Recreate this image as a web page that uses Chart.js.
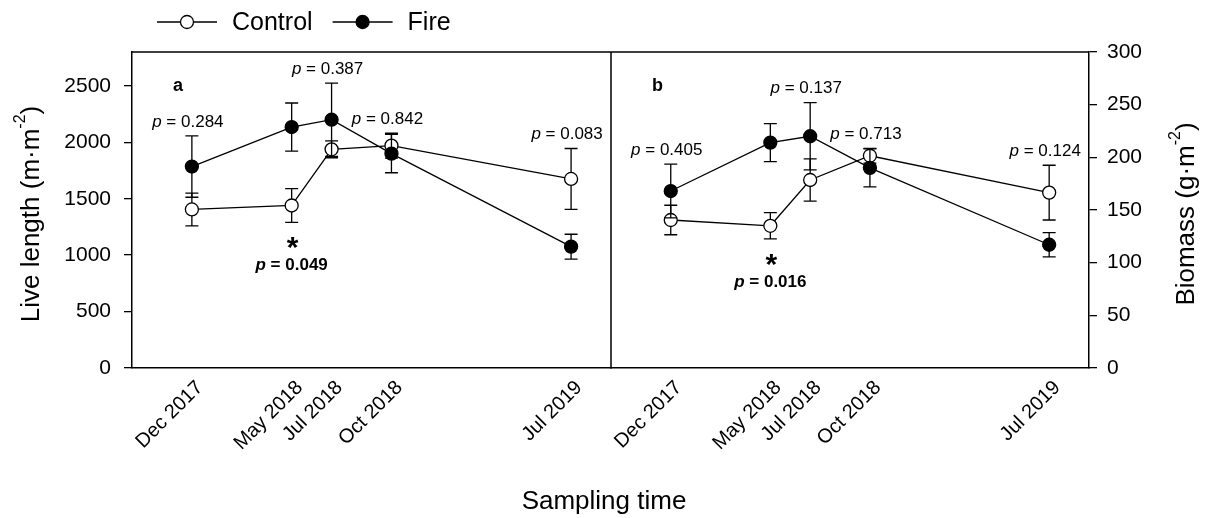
<!DOCTYPE html>
<html>
<head>
<meta charset="utf-8">
<script src="https://cdn.jsdelivr.net/npm/chart.js@4.4.1/dist/chart.umd.min.js"></script>
<style>
body{margin:0;background:#fff}
#wrap{position:relative;width:1213px;height:518px;background:#fff;font-family:'Liberation Sans',Arial,sans-serif}
#ca{position:absolute;left:0;top:0}
#cb{position:absolute;left:560px;top:0}
#xtitle{position:absolute;left:0;top:485px;width:1208px;text-align:center;font-size:26px;color:#000}
</style>
</head>
<body>
<div id="wrap">
  <canvas id="ca" width="612" height="518"></canvas>
  <canvas id="cb" width="653" height="518"></canvas>
  <div id="xtitle">Sampling time</div>
</div>
<script>
// sampling dates, as months after Dec 2017
const months = [0, 5, 7, 10, 19];
const dateLabels = ['Dec 2017', 'May 2018', 'Jul 2018', 'Oct 2018', 'Jul 2019'];

// panel a: live root length (m m-2)
const lengthControl = [1405, 1440, 1938, 1970, 1675];
const lengthControlSE = [145, 150, 75, 110, 270];
const lengthFire = [1785, 2135, 2200, 1900, 1075];
const lengthFireSE = [272, 213, 325, 170, 110];
const lengthP = ['0.284', '0.049', '0.387', '0.842', '0.083'];
const lengthTicks = [0, 500, 1000, 1500, 2000, 2500];

// panel b: biomass (g m-2)
const biomassControl = [140.5, 135, 178.5, 201.5, 166.5];
const biomassControlSE = [14, 12.5, 20, 7, 26];
const biomassFire = [168, 214, 220, 190, 117];
const biomassFireSE = [25.5, 18, 32, 18, 11.5];
const biomassP = ['0.405', '0.016', '0.137', '0.713', '0.124'];
const biomassTicks = [0, 50, 100, 150, 200, 250, 300];

const FONT = "'Liberation Sans', Arial, sans-serif";
Chart.defaults.font.family = FONT;
Chart.defaults.color = '#000';

const errorBars = {
  id: 'errorBars',
  beforeDatasetDraw(chart, args) {
    const ds = chart.data.datasets[args.index];
    const ys = chart.scales.y, ctx = chart.ctx;
    ctx.save();
    ctx.strokeStyle = '#000';
    ctx.lineWidth = 1.3;
    args.meta.data.forEach((pt, i) => {
      const v = ds.data[i].y, e = ds.err[i];
      const t = ys.getPixelForValue(v + e), b = ys.getPixelForValue(v - e);
      ctx.beginPath();
      ctx.moveTo(pt.x, t); ctx.lineTo(pt.x, b);
      ctx.moveTo(pt.x - 6.5, t); ctx.lineTo(pt.x + 6.5, t);
      ctx.moveTo(pt.x - 6.5, b); ctx.lineTo(pt.x + 6.5, b);
      ctx.stroke();
    });
    ctx.restore();
  }
};

function drawP(ctx, val, cx, cy, bold) {
  const w = bold ? 'bold ' : '';
  ctx.font = 'italic ' + w + '17px ' + FONT;
  const w1 = ctx.measureText('p').width;
  ctx.font = w + '17px ' + FONT;
  const rest = ' = ' + val;
  const w2 = ctx.measureText(rest).width;
  let x = cx - (w1 + w2) / 2;
  ctx.textAlign = 'left';
  ctx.textBaseline = 'middle';
  ctx.font = 'italic ' + w + '17px ' + FONT;
  ctx.fillText('p', x, cy);
  ctx.font = w + '17px ' + FONT;
  ctx.fillText(rest, x + w1, cy);
}

function drawTitle(ctx, x, y, main, sup, close) {
  ctx.save();
  ctx.translate(x, y);
  ctx.rotate(-Math.PI / 2);
  const big = '26px ' + FONT, small = '16px ' + FONT;
  ctx.font = big;
  const w1 = ctx.measureText(main).width, w3 = ctx.measureText(close).width;
  ctx.font = small;
  const w2 = ctx.measureText(sup).width;
  let sx = -(w1 + w2 + w3) / 2;
  ctx.textAlign = 'left';
  ctx.textBaseline = 'middle';
  ctx.font = big; ctx.fillText(main, sx, 0); sx += w1;
  ctx.font = small; ctx.fillText(sup, sx, -11); sx += w2;
  ctx.font = big; ctx.fillText(close, sx, 0);
  ctx.restore();
}

const decorations = {
  id: 'decorations',
  afterDraw(chart, args, o) {
    const ctx = chart.ctx, a = chart.chartArea;
    const xs = chart.scales.x, ys = chart.scales.y;
    const [ctl, fire] = chart.data.datasets;
    ctx.save();
    ctx.fillStyle = '#000';
    ctx.strokeStyle = '#000';
    ctx.lineWidth = 1.5;
    ctx.beginPath();
    ctx.moveTo(a.left, a.top); ctx.lineTo(a.right, a.top);
    if (o.divider) { ctx.moveTo(a.right, a.top); ctx.lineTo(a.right, a.bottom); }
    ctx.stroke();

    // panel letter
    ctx.font = 'bold 18px ' + FONT;
    ctx.textAlign = 'left';
    ctx.textBaseline = 'middle';
    ctx.fillText(o.letter, a.left + 41, a.top + 34);

    // p values
    o.p.forEach((val, i) => {
      const px = xs.getPixelForValue(months[i]);
      if (parseFloat(val) < 0.05) {
        const lo = Math.min(ctl.data[i].y - ctl.err[i], fire.data[i].y - fire.err[i]);
        const py = ys.getPixelForValue(lo);
        ctx.font = 'bold 30px ' + FONT;
        ctx.textAlign = 'center';
        ctx.textBaseline = 'alphabetic';
        ctx.fillText('*', px + 1, py + 35);
        drawP(ctx, val, px, py + 43, true);
      } else {
        const hi = Math.max(ctl.data[i].y + ctl.err[i], fire.data[i].y + fire.err[i]);
        drawP(ctx, val, px - 4, ys.getPixelForValue(hi) - 14, false);
      }
    });

    drawTitle(ctx, o.titleX, (a.top + a.bottom) / 2 + 4, o.title, '-2', ')');

    if (o.legend) {
      const ly = 22;
      let x = 157;
      [['Control', '#fff'], ['Fire', '#000']].forEach(([name, fill]) => {
        ctx.lineWidth = 1.3;
        ctx.beginPath(); ctx.moveTo(x, ly); ctx.lineTo(x + 60, ly); ctx.stroke();
        ctx.beginPath(); ctx.arc(x + 30, ly, 6.5, 0, Math.PI * 2);
        ctx.fillStyle = fill; ctx.fill(); ctx.stroke();
        ctx.fillStyle = '#000';
        ctx.font = '25px ' + FONT;
        ctx.textAlign = 'left';
        ctx.textBaseline = 'middle';
        ctx.fillText(name, x + 75, ly + 1);
        x += 75 + ctx.measureText(name).width + 20;
      });
    }
    ctx.restore();
  }
};

function series(vals, err, label, fill, order) {
  return {
    label: label,
    data: months.map((m, i) => ({x: m, y: vals[i]})),
    err: err,
    order: order,
    borderColor: '#000',
    borderWidth: 1.3,
    backgroundColor: fill,
    pointBackgroundColor: fill,
    pointBorderColor: '#000',
    pointBorderWidth: 1.3,
    pointRadius: 6.5,
    tension: 0
  };
}

function makePanel(id, cfg) {
  return new Chart(document.getElementById(id), {
    type: 'line',
    data: {
      datasets: [
        series(cfg.control, cfg.controlSE, 'Control', '#fff', 2),
        series(cfg.fire, cfg.fireSE, 'Fire', '#000', 1)
      ]
    },
    options: {
      responsive: false,
      animation: false,
      layout: {padding: cfg.padding, autoPadding: false},
      plugins: {
        legend: {display: false},
        tooltip: {enabled: false},
        decorations: cfg.deco
      },
      scales: {
        x: {
          type: 'linear', min: -3, max: 21,
          afterBuildTicks: s => { s.ticks = months.map(v => ({value: v})); },
          ticks: {
            autoSkip: false, minRotation: 45, maxRotation: 45, padding: 0,
            labelOffset: 8,
            font: {size: 20},
            callback: (v, i) => dateLabels[i]
          },
          grid: {display: false},
          border: {display: true, color: '#000', width: 1.5},
          afterFit: s => { s.height = 150; s.paddingLeft = 0; s.paddingRight = 0; }
        },
        y: {
          position: cfg.side, min: 0, max: cfg.max,
          afterBuildTicks: s => { s.ticks = cfg.ticks.map(v => ({value: v})); },
          ticks: {font: {size: 21}, padding: cfg.tickPad, callback: v => String(v)},
          grid: {drawOnChartArea: false, tickLength: 8, color: '#000', lineWidth: 1.3},
          border: {display: true, color: '#000', width: 1.5},
          afterFit: s => { s.width = cfg.yWidth; s.paddingTop = 0; s.paddingBottom = 0; }
        }
      }
    },
    plugins: [errorBars, decorations]
  });
}

makePanel('ca', {
  control: lengthControl, controlSE: lengthControlSE,
  fire: lengthFire, fireSE: lengthFireSE,
  max: 2800, ticks: lengthTicks, side: 'left', yWidth: 80, tickPad: 13,
  padding: {left: 52, right: 1, top: 52, bottom: 0},
  deco: {letter: 'a', p: lengthP, divider: true, legend: true,
         title: 'Live length (m\u00b7m', titleX: 32}
});

makePanel('cb', {
  control: biomassControl, controlSE: biomassControlSE,
  fire: biomassFire, fireSE: biomassFireSE,
  max: 300, ticks: biomassTicks, side: 'right', yWidth: 124, tickPad: 10,
  padding: {left: 51, right: 0, top: 52, bottom: 0},
  deco: {letter: 'b', p: biomassP, divider: false, legend: false,
         title: 'Biomass (g\u00b7m', titleX: 627}
});
</script>
</body>
</html>
